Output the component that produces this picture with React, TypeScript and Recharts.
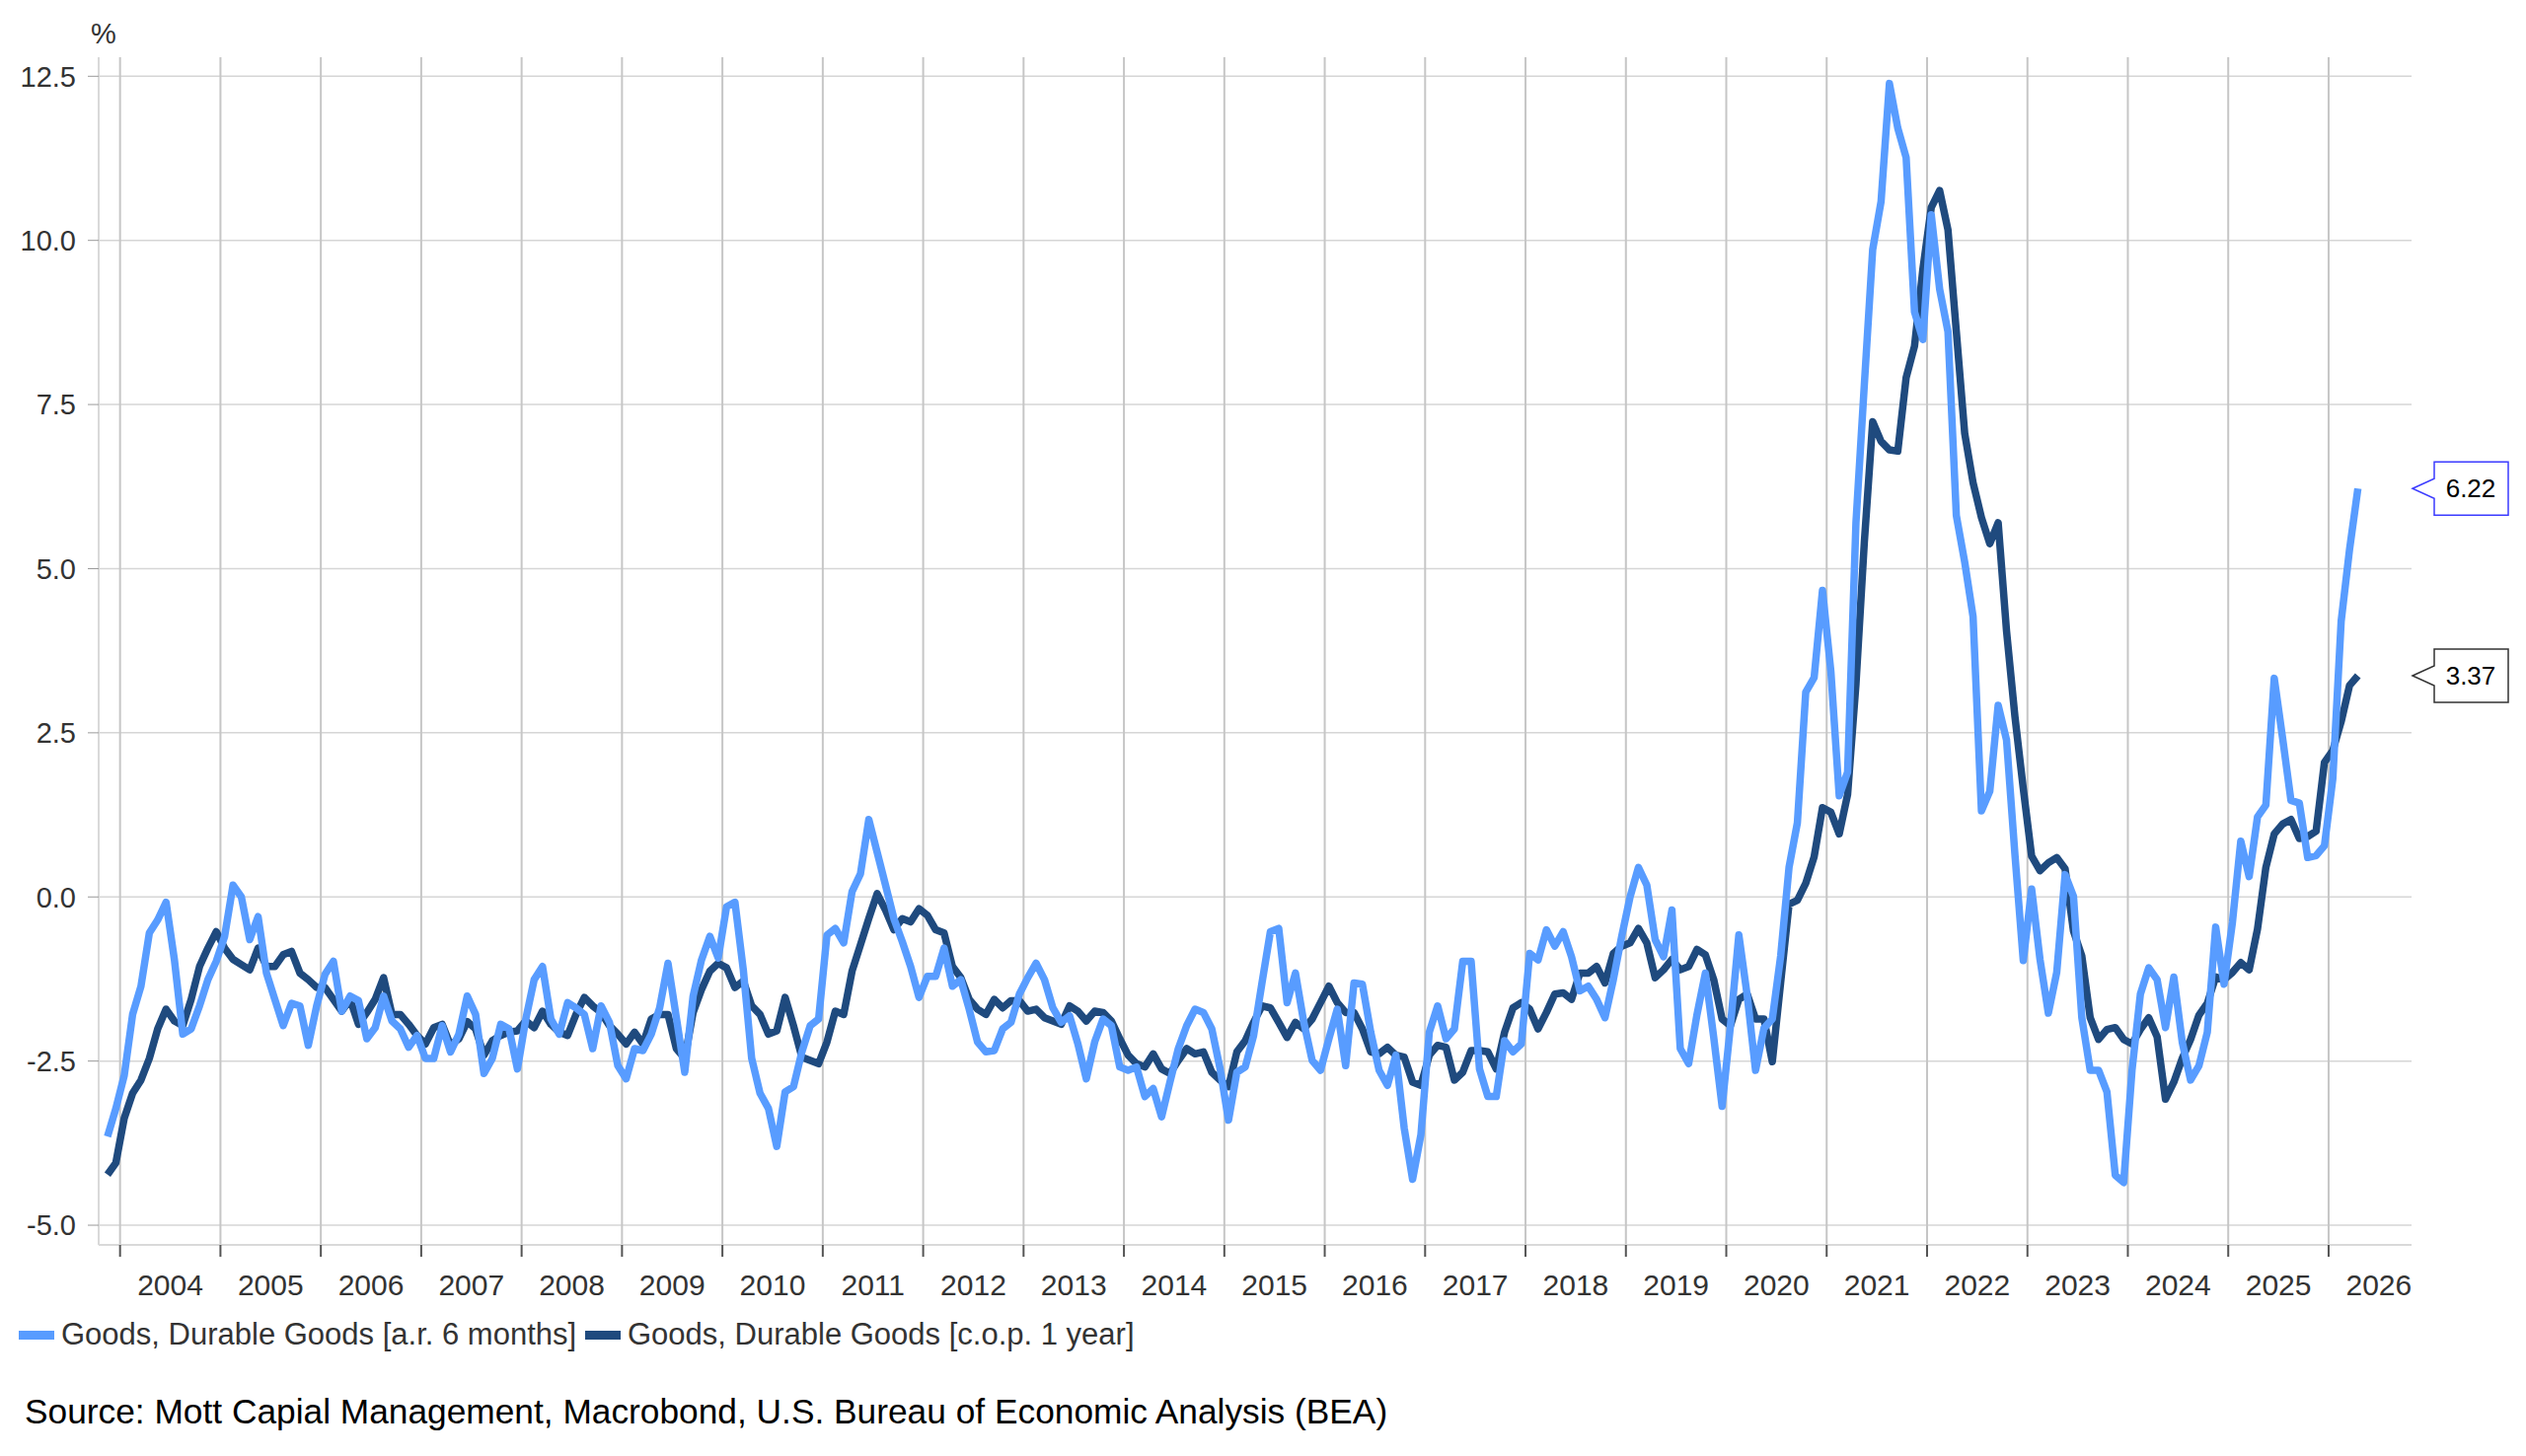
import React from 'react';
import {
  CartesianGrid,
  Line,
  LineChart,
  ReferenceDot,
  XAxis,
  YAxis,
} from 'recharts';

// Goods, Durable Goods price change, monthly from Nov 2003 to Apr 2026
const START_YEAR = 2003;
const START_MONTH = 11;

// [a.r. 6 months], one row per calendar year
const AR6 = [
  -3.65, -3.22,
  -2.72, -1.79, -1.36, -0.55, -0.35, -0.08, -0.96, -2.09, -2.01, -1.66, -1.26, -0.98,
  -0.6, 0.18, 0.0, -0.65, -0.3, -1.16, -1.56, -1.96, -1.62, -1.66, -2.26, -1.66,
  -1.18, -0.98, -1.74, -1.51, -1.58, -2.16, -1.99, -1.51, -1.89, -2.01, -2.29, -2.11,
  -2.46, -2.46, -1.96, -2.36, -2.09, -1.51, -1.79, -2.69, -2.46, -1.94, -2.01, -2.62,
  -1.86, -1.26, -1.06, -1.86, -2.09, -1.61, -1.69, -1.79, -2.31, -1.66, -1.91, -2.57,
  -2.77, -2.31, -2.34, -2.09, -1.69, -1.01, -1.84, -2.67, -1.51, -0.96, -0.6, -0.93,
  -0.15, -0.08, -1.11, -2.46, -2.99, -3.22, -3.8, -2.97, -2.89, -2.36, -1.96, -1.86,
  -0.58, -0.48, -0.7, 0.08, 0.35, 1.18, 0.68, 0.18, -0.33, -0.68, -1.06, -1.53,
  -1.21, -1.21, -0.78, -1.36, -1.26, -1.71, -2.21, -2.36, -2.34, -2.01, -1.91, -1.48,
  -1.23, -1.01, -1.26, -1.69, -1.91, -1.81, -2.24, -2.77, -2.21, -1.86, -1.96, -2.59,
  -2.64, -2.59, -3.04, -2.92, -3.35, -2.82, -2.31, -1.96, -1.71, -1.76, -2.01, -2.62,
  -3.4, -2.67, -2.59, -2.11, -1.31, -0.53, -0.48, -1.61, -1.16, -1.91, -2.49, -2.64,
  -2.16, -1.71, -2.57, -1.31, -1.33, -2.06, -2.64, -2.87, -2.41, -3.52, -4.3, -3.62,
  -2.06, -1.66, -2.16, -2.01, -0.98, -0.98, -2.62, -3.04, -3.04, -2.19, -2.36, -2.24,
  -0.86, -0.96, -0.5, -0.75, -0.53, -0.91, -1.43, -1.36, -1.56, -1.84, -1.26, -0.6,
  0.0, 0.45, 0.18, -0.65, -0.91, -0.2, -2.31, -2.54, -1.79, -1.16, -2.14, -3.19,
  -1.96, -0.58, -1.5, -2.64, -2.0, -1.86, -0.9, 0.45, 1.13, 3.12, 3.34, 4.67,
  3.44, 1.54, 1.9, 5.7, 7.8, 9.86, 10.59, 12.39, 11.71, 11.26, 8.91, 8.49,
  10.39, 9.26, 8.61, 5.81, 5.1, 4.27, 1.31, 1.61, 2.92, 2.39, 0.65, -0.97,
  0.12, -0.95, -1.77, -1.15, 0.34, 0.01, -1.84, -2.64, -2.64, -2.97, -4.24, -4.35,
  -2.64, -1.48, -1.08, -1.26, -1.99, -1.22, -2.21, -2.79, -2.57, -2.06, -0.46, -1.33,
  -0.39, 0.85, 0.31, 1.22, 1.4, 3.33, 2.42, 1.47, 1.43, 0.6, 0.63, 0.78,
  1.8, 4.2, 5.29, 6.22,
];

// [c.o.p. 1 year]
const COP1Y = [
  -4.23, -4.05,
  -3.37, -2.99, -2.79, -2.46, -2.01, -1.71, -1.89, -1.96, -1.56, -1.06, -0.78, -0.53,
  -0.78, -0.95, -1.03, -1.11, -0.78, -1.06, -1.06, -0.88, -0.83, -1.16, -1.26, -1.38,
  -1.38, -1.56, -1.74, -1.56, -1.94, -1.76, -1.56, -1.23, -1.79, -1.79, -1.94, -2.11,
  -2.24, -1.99, -1.94, -2.26, -2.16, -1.9, -2.01, -2.41, -2.19, -2.11, -2.06, -2.04,
  -1.89, -1.99, -1.74, -1.94, -2.06, -2.11, -1.79, -1.53, -1.66, -1.76, -1.96, -2.09,
  -2.24, -2.06, -2.24, -1.86, -1.79, -1.79, -2.31, -2.46, -1.76, -1.41, -1.13, -1.01,
  -1.08, -1.38, -1.28, -1.66, -1.79, -2.09, -2.04, -1.53, -1.96, -2.44, -2.49, -2.54,
  -2.21, -1.74, -1.79, -1.13, -0.73, -0.33, 0.05, -0.2, -0.5, -0.33, -0.38, -0.18,
  -0.28, -0.5, -0.55, -1.06, -1.23, -1.56, -1.71, -1.79, -1.56, -1.69, -1.58, -1.58,
  -1.74, -1.71, -1.84, -1.89, -1.94, -1.66, -1.74, -1.89, -1.74, -1.76, -1.89, -2.16,
  -2.41, -2.54, -2.59, -2.39, -2.62, -2.69, -2.49, -2.31, -2.39, -2.36, -2.67, -2.79,
  -2.89, -2.36, -2.19, -1.91, -1.66, -1.69, -1.91, -2.14, -1.91, -2.01, -1.86, -1.61,
  -1.36, -1.61, -1.76, -1.76, -2.01, -2.36, -2.39, -2.29, -2.41, -2.44, -2.82, -2.87,
  -2.41, -2.26, -2.29, -2.79, -2.67, -2.34, -2.34, -2.36, -2.62, -2.06, -1.69, -1.61,
  -1.71, -2.01, -1.76, -1.48, -1.46, -1.56, -1.16, -1.16, -1.06, -1.31, -0.86, -0.75,
  -0.7, -0.48, -0.7, -1.23, -1.11, -0.95, -1.11, -1.06, -0.8, -0.88, -1.26, -1.86,
  -1.96, -1.56, -1.48, -1.86, -1.86, -2.51, -1.3, -0.11, -0.05, 0.21, 0.61, 1.36,
  1.29, 0.96, 1.56, 3.24, 5.4, 7.24, 6.94, 6.81, 6.79, 7.91, 8.39, 9.56,
  10.5, 10.76, 10.16, 8.61, 7.06, 6.31, 5.78, 5.38, 5.7, 4.05, 2.75, 1.65,
  0.62, 0.4, 0.52, 0.6, 0.43, -0.52, -0.9, -1.84, -2.17, -2.02, -1.99, -2.17,
  -2.24, -2.02, -1.84, -2.13, -3.08, -2.82, -2.46, -2.17, -1.8, -1.62, -1.22, -1.26,
  -1.15, -1.0, -1.11, -0.49, 0.45, 0.96, 1.11, 1.18, 0.89, 0.92, 1.0, 2.05,
  2.23, 2.67, 3.22, 3.37,
];

const YEARS = [
  2004, 2005, 2006, 2007, 2008, 2009, 2010, 2011, 2012, 2013, 2014, 2015,
  2016, 2017, 2018, 2019, 2020, 2021, 2022, 2023, 2024, 2025, 2026,
];
const Y_TICKS = [-5, -2.5, 0, 2.5, 5, 7.5, 10, 12.5];

const SERIES = [
  { key: 'ar6', name: 'Goods, Durable Goods [a.r. 6 months]', color: '#589CFF', box: '#3b3bff' },
  { key: 'cop', name: 'Goods, Durable Goods [c.o.p. 1 year]', color: '#1F4A7E', box: '#333333' },
];

const W = 2560;
const H = 1476;
const PLOT_LEFT = 100;
const PLOT_RIGHT = 2444;
const PLOT_TOP = 58;
const PLOT_BOTTOM = 1262;
const TICK_AXIS_H = 12;
const LABEL_AXIS_H = 72;

const X_DOMAIN = [2003.787, 2026.826];
const Y_DOMAIN = [-5.3, 12.79];
const FONT = '"Liberation Sans", Arial, Helvetica, sans-serif';

// mid-month position in decimal years
const monthPos = (i: number) => {
  const m = START_MONTH - 1 + i;
  return START_YEAR + (m + 0.5) / 12;
};

const data = AR6.map((v, i) => ({ t: monthPos(i), ar6: v, cop: COP1Y[i] }));
const last = data.length - 1;

function Callout({ cy, value, stroke }: { cy?: number; value: number; stroke: string }) {
  if (cy == null) return null;
  const tx = PLOT_RIGHT + 1;
  const bx = tx + 22;
  const ex = tx + 97;
  const d = `M${tx},${cy} L${bx},${cy - 10} L${bx},${cy - 27} L${ex},${cy - 27} L${ex},${cy + 27} L${bx},${cy + 27} L${bx},${cy + 10} Z`;
  return (
    <g>
      <path d={d} fill="#fff" stroke={stroke} strokeWidth={1.5} />
      <text x={tx + 59} y={cy} textAnchor="middle" dominantBaseline="central" fontSize={26} fill="#000">
        {value.toFixed(2)}
      </text>
    </g>
  );
}

export default function App() {
  return (
    <div style={{ position: 'absolute', left: 0, top: 0, width: W, height: H, background: '#fff', fontFamily: FONT }}>
      <LineChart
        width={W}
        height={H}
        data={data}
        margin={{
          top: PLOT_TOP,
          right: W - PLOT_RIGHT,
          left: 0,
          bottom: H - PLOT_BOTTOM - TICK_AXIS_H - LABEL_AXIS_H,
        }}
      >
        <CartesianGrid xAxisId="grid" vertical={false} syncWithTicks stroke="#d6d6d6" strokeWidth={1.5} />
        <CartesianGrid xAxisId="grid" horizontal={false} syncWithTicks stroke="#c6c6c6" strokeWidth={2} />
        <XAxis
          xAxisId="grid"
          dataKey="t"
          type="number"
          domain={X_DOMAIN}
          allowDataOverflow
          ticks={YEARS}
          interval={0}
          height={TICK_AXIS_H}
          tickFormatter={() => ''}
          tickSize={12}
          tickLine={{ stroke: '#555', strokeWidth: 2 }}
          axisLine={{ stroke: '#d9d9d9', strokeWidth: 2 }}
        />
        <XAxis
          xAxisId="lab"
          dataKey="t"
          type="number"
          domain={X_DOMAIN}
          allowDataOverflow
          ticks={YEARS.map((y) => y + 0.5)}
          interval={0}
          height={LABEL_AXIS_H}
          axisLine={false}
          tickLine={false}
          tickSize={0}
          tickMargin={18}
          tick={{ fontSize: 30, fill: '#333' }}
          tickFormatter={(v) => String(Math.floor(v))}
        />
        <YAxis
          domain={Y_DOMAIN}
          allowDataOverflow
          ticks={Y_TICKS}
          interval={0}
          width={PLOT_LEFT}
          tickSize={11}
          tickMargin={12}
          tick={{ fontSize: 29, fill: '#333' }}
          tickLine={{ stroke: '#999' }}
          axisLine={{ stroke: '#d9d9d9', strokeWidth: 2 }}
          tickFormatter={(v) => v.toFixed(1)}
        />
        <Line
          xAxisId="grid"
          type="linear"
          dataKey="cop"
          name={SERIES[1].name}
          stroke={SERIES[1].color}
          strokeWidth={7.5}
          strokeLinejoin="round"
          dot={false}
          activeDot={false}
          isAnimationActive={false}
        />
        <Line
          xAxisId="grid"
          type="linear"
          dataKey="ar6"
          name={SERIES[0].name}
          stroke={SERIES[0].color}
          strokeWidth={7.5}
          strokeLinejoin="round"
          dot={false}
          activeDot={false}
          isAnimationActive={false}
        />
        <ReferenceDot
          xAxisId="grid"
          x={data[last].t}
          y={COP1Y[last]}
          ifOverflow="visible"
          shape={(p: any) => <Callout cy={p.cy} value={COP1Y[last]} stroke={SERIES[1].box} />}
        />
        <ReferenceDot
          xAxisId="grid"
          x={data[last].t}
          y={AR6[last]}
          ifOverflow="visible"
          shape={(p: any) => <Callout cy={p.cy} value={AR6[last]} stroke={SERIES[0].box} />}
        />
      </LineChart>

      <div style={{ position: 'absolute', left: 92, top: 18, fontSize: 29, color: '#333' }}>%</div>

      {SERIES.map((s, i) => (
        <div
          key={s.key}
          style={{
            position: 'absolute',
            left: i === 0 ? 19 : 593,
            top: 1335,
            height: 36,
            display: 'flex',
            alignItems: 'center',
            fontSize: 31,
            color: '#333',
            whiteSpace: 'nowrap',
          }}
        >
          <span style={{ display: 'inline-block', width: 36, height: 9, background: s.color, marginRight: 7 }} />
          {s.name}
        </div>
      ))}

      <div style={{ position: 'absolute', left: 25, top: 1411, fontSize: 35.3, color: '#000', whiteSpace: 'nowrap' }}>
        Source: Mott Capial Management, Macrobond, U.S. Bureau of Economic Analysis (BEA)
      </div>
    </div>
  );
}
